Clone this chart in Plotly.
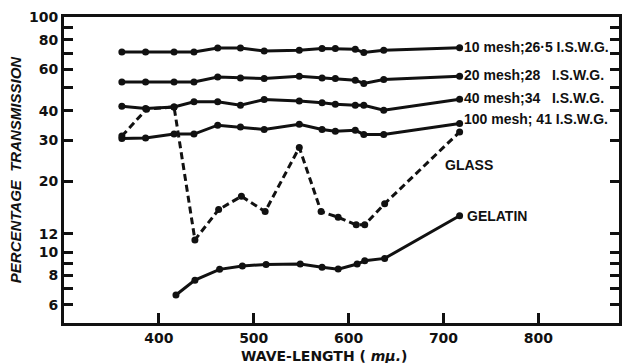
import math
import plotly.graph_objects as go

# Wave-lengths (m\u03bc) for the wire-mesh filters
wl_mesh = [361, 386, 416, 437, 462, 486, 511, 548, 572, 586, 607, 616, 637, 717]
mesh_10 = [71.0, 71.0, 71.0, 71.0, 73.9, 73.9, 71.7, 72.2, 73.4, 73.4, 72.9, 70.6, 72.2, 74.1]
mesh_20 = [53.0, 53.0, 53.0, 53.0, 55.6, 55.1, 54.8, 56.0, 55.1, 54.8, 53.9, 52.2, 54.2, 56.0]
mesh_40 = [41.8, 40.9, 41.5, 43.6, 43.6, 42.2, 44.6, 44.0, 43.2, 42.6, 42.2, 42.2, 40.2, 44.7]
mesh_100 = [30.5, 30.6, 31.8, 31.8, 34.7, 34.1, 33.3, 35.0, 33.3, 32.7, 33.0, 31.7, 31.7, 35.3]

wl_glass = [361, 387, 416, 438, 463, 487, 512, 548, 571, 589, 608, 617, 638, 717]
glass = [31.2, 40.6, 41.5, 11.3, 15.2, 17.3, 14.9, 27.9, 14.9, 14.1, 13.1, 13.1, 16.1, 32.5]

wl_gelatin = [418, 438, 464, 488, 513, 549, 572, 589, 609, 617, 638, 717]
gelatin = [6.59, 7.62, 8.47, 8.75, 8.89, 8.92, 8.64, 8.49, 8.92, 9.21, 9.43, 14.3]

mesh_labels = [
    "10 mesh;26\u00b75 I.S.W.G.",
    "20 mesh;28   I.S.W.G.",
    "40 mesh;34   I.S.W.G.",
    "100 mesh; 41 I.S.W.G.",
]

y_ticks = [6, 7, 8, 9, 10, 12, 20, 30, 40, 50, 60, 70, 80, 90, 100]
y_labelled = {6, 8, 10, 12, 20, 30, 40, 60, 80, 100}
x_ticks = [400, 500, 600, 700, 800]

INK = "#111111"
FONT = "Liberation Sans, Arial, sans-serif"
WIDE = "DejaVu Sans, Verdana, sans-serif"

fig = go.Figure()

line_style = dict(color=INK, width=3)
marker_style = dict(color=INK, size=7)

for series in (mesh_10, mesh_20, mesh_40, mesh_100):
    fig.add_trace(go.Scatter(x=wl_mesh, y=series, mode="lines+markers",
                             line=line_style, marker=marker_style,
                             showlegend=False, hoverinfo="skip"))

fig.add_trace(go.Scatter(x=wl_glass, y=glass, mode="lines+markers",
                         line=dict(color=INK, width=3, dash="7px,4px"),
                         marker=marker_style, showlegend=False, hoverinfo="skip"))

fig.add_trace(go.Scatter(x=wl_gelatin, y=gelatin, mode="lines+markers",
                         line=line_style, marker=marker_style,
                         showlegend=False, hoverinfo="skip"))

label_font = dict(family=FONT, size=14, color=INK, weight="bold")

# Curve labels to the right of the last point of each curve
# (annotation y on a log axis is given in log10 units)
y_shifts = [1, 1, 1, 4]
for text, series, dy in zip(mesh_labels, (mesh_10, mesh_20, mesh_40, mesh_100), y_shifts):
    fig.add_annotation(x=wl_mesh[-1], y=math.log10(series[-1]),
                       text=text, showarrow=False, xanchor="left",
                       xshift=2, yshift=dy, font=label_font)

fig.add_annotation(x=wl_gelatin[-1], y=math.log10(gelatin[-1]), text="GELATIN",
                   showarrow=False, xanchor="left", xshift=5,
                   font=label_font)
fig.add_annotation(x=699, y=math.log10(23.5), text="GLASS", showarrow=False,
                   xanchor="left", font=label_font)

# Axis title below the wave-length scale
fig.add_annotation(xref="paper", yref="paper", x=0.468, y=-0.108,
                   text="WAVE-LENGTH ( <i>m\u03bc.</i>)", showarrow=False,
                   xanchor="center", yanchor="middle",
                   font=dict(family=WIDE, size=14, color=INK, weight="bold"))

fig.update_xaxes(
    range=[300, 885],
    tickvals=x_ticks,
    ticktext=[str(v) for v in x_ticks],
    ticks="inside", ticklen=10, tickwidth=3, tickcolor=INK,
    showline=True, linewidth=3, linecolor=INK, mirror=True,
    showgrid=False, zeroline=False,
    tickfont=dict(family=WIDE, size=14, color=INK, weight="bold"),
)

fig.update_yaxes(
    type="log",
    range=[0.7, 2.0],
    tickvals=y_ticks,
    ticktext=[str(v) if v in y_labelled else "" for v in y_ticks],
    ticks="inside", ticklen=9, tickwidth=3, tickcolor=INK,
    showline=True, linewidth=3, linecolor=INK, mirror="ticks",
    showgrid=False, zeroline=False,
    tickfont=dict(family=WIDE, size=14, color=INK, weight="bold"),
    title=dict(text="<i>PERCENTAGE  TRANSMISSION</i>",
               font=dict(family=FONT, size=15, color=INK, weight="bold"),
               standoff=4),
)

fig.update_layout(
    width=627, height=363,
    margin=dict(l=64, r=5, t=17, b=40),
    paper_bgcolor="white", plot_bgcolor="white",
    font=dict(family=FONT, color=INK),
)

fig.write_html("out.html")
